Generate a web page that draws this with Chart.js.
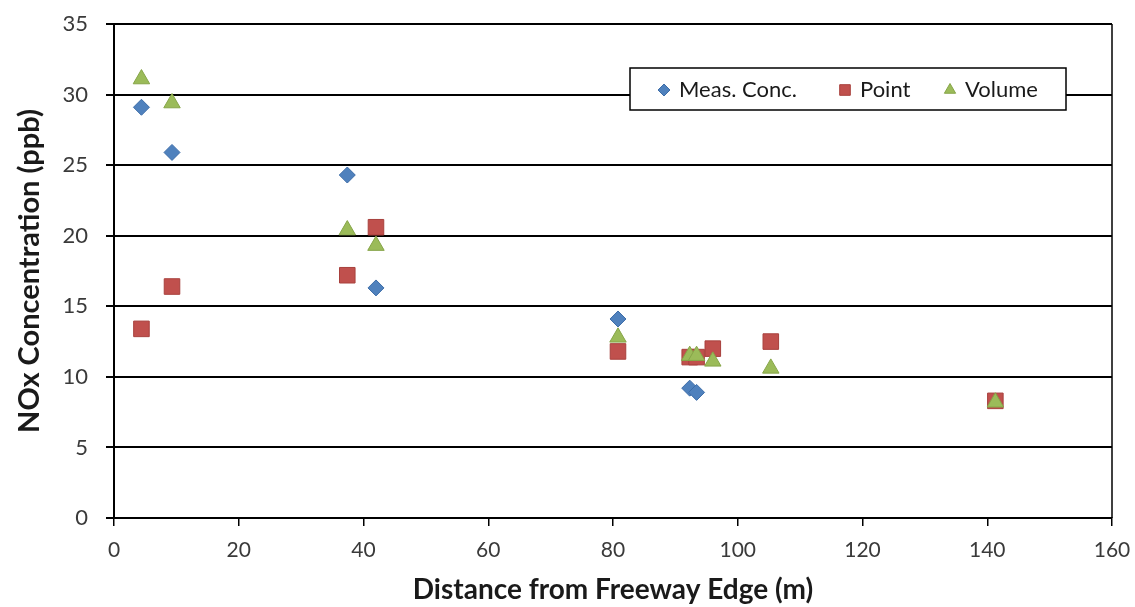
<!DOCTYPE html>
<html lang="en">
<head>
    <meta charset="UTF-8">
    <title>NOx vs Distance</title>
    <script src="https://cdn.jsdelivr.net/npm/chart.js"></script>
    <style>
        html, body { margin: 0; padding: 0; background: #fff; }
        #wrap { position: relative; width: 1135px; height: 607px; }
    </style>
</head>
<body>
<div id="wrap"><canvas id="noxChart" width="1135" height="607"></canvas></div>
<script>
// distances (m) and NOx (ppb) per series
const measX = [4.4, 9.3, 37.4, 42.0, 80.8, 92.3, 93.4];
const measY = [29.1, 25.9, 24.3, 16.3, 14.1, 9.2, 8.9];
const pointX = [4.4, 9.3, 37.4, 42.0, 80.8, 92.3, 93.4, 96.0, 105.3, 141.3];
const pointY = [13.4, 16.4, 17.2, 20.6, 11.8, 11.4, 11.4, 12.0, 12.5, 8.3];
const volX = [4.4, 9.3, 37.4, 42.0, 80.8, 92.3, 93.4, 96.0, 105.3, 141.3];
const volY = [31.1, 29.4, 20.4, 19.3, 12.8, 11.5, 11.5, 11.1, 10.6, 8.2];

const seriesNames = ['Meas. Conc.', 'Point', 'Volume'];
const xTicks = [0, 20, 40, 60, 80, 100, 120, 140, 160];
const yTicks = [0, 5, 10, 15, 20, 25, 30, 35];

const toXY = (xs, ys) => xs.map((x, i) => ({ x: x, y: ys[i] }));

const FONT = 'Lato, "Open Sans", sans-serif';

// legend box drawn inside the plot, top right
const boxLegend = {
    id: 'boxLegend',
    afterDraw(chart) {
        const ctx = chart.ctx;
        const bx = 630, by = 68, bw = 436, bh = 42;
        ctx.save();
        ctx.fillStyle = '#fff';
        ctx.fillRect(bx, by, bw, bh);
        ctx.strokeStyle = '#000';
        ctx.lineWidth = 1.5;
        ctx.strokeRect(bx, by, bw, bh);
        const items = [
            { mx: 664, tx: 679 },
            { mx: 845, tx: 860 },
            { mx: 950, tx: 965 }
        ];
        const sizes = [6, 7.5, 6.5];
        ctx.font = '22px ' + FONT;
        ctx.textBaseline = 'middle';
        items.forEach((it, i) => {
            const ds = chart.data.datasets[i];
            ctx.fillStyle = ds.backgroundColor;
            ctx.strokeStyle = ds.borderColor;
            ctx.lineWidth = 1;
            Chart.helpers.drawPoint(ctx, { pointStyle: ds.pointStyle, radius: sizes[i], borderWidth: 1 }, it.mx, by + bh / 2 + 1);
            ctx.fillStyle = '#1a1a1a';
            ctx.fillText(seriesNames[i], it.tx, by + bh / 2 + 1);
        });
        ctx.restore();
    }
};

// right-hand border of the plot area
const plotFrame = {
    id: 'plotFrame',
    afterDatasetsDraw(chart) {
        const a = chart.chartArea, ctx = chart.ctx;
        ctx.save();
        ctx.strokeStyle = '#000';
        ctx.lineWidth = 1.5;
        ctx.beginPath();
        ctx.moveTo(a.right, a.top);
        ctx.lineTo(a.right, a.bottom);
        ctx.stroke();
        ctx.restore();
    }
};

new Chart(document.getElementById('noxChart'), {
    type: 'scatter',
    data: {
        datasets: [
            {
                label: seriesNames[0],
                data: toXY(measX, measY),
                order: 2,
                pointStyle: 'rectRot',
                pointRadius: 8,
                backgroundColor: '#4F81BD',
                borderColor: '#3D6DA8',
                borderWidth: 1
            },
            {
                label: seriesNames[1],
                data: toXY(pointX, pointY),
                order: 1,
                pointStyle: 'rect',
                pointRadius: 11,
                backgroundColor: '#C0504D',
                borderColor: '#A8403D',
                borderWidth: 1
            },
            {
                label: seriesNames[2],
                data: toXY(volX, volY),
                order: 0,
                pointStyle: 'triangle',
                pointRadius: 9.5,
                backgroundColor: '#9BBB59',
                borderColor: '#86A548',
                borderWidth: 1
            }
        ]
    },
    options: {
        responsive: false,
        animation: false,
        layout: { padding: { top: 24, right: 23, left: 0, bottom: 0 } },
        plugins: {
            legend: { display: false },
            tooltip: { enabled: false }
        },
        scales: {
            x: {
                type: 'linear',
                min: 0,
                max: 160,
                afterBuildTicks: s => { s.ticks = xTicks.map(v => ({ value: v })); },
                afterFit: s => {
                    s.height = 89;
                    s.paddingLeft = 0;
                    s.paddingRight = 0;
                },
                border: { display: true, color: '#000', width: 2 },
                grid: { drawOnChartArea: false, drawTicks: true, tickLength: 8, color: '#000', lineWidth: 1.5 },
                ticks: { color: '#3a3a3a', padding: 12, font: { family: FONT, size: 21 }, maxRotation: 0 },
                title: {
                    display: true,
                    text: 'Distance from Freeway Edge (m)',
                    color: '#1a1a1a',
                    font: { family: FONT, size: 28, weight: 'bold' },
                    padding: { top: 0, bottom: 0 }
                }
            },
            y: {
                min: 0,
                max: 35,
                afterBuildTicks: s => { s.ticks = yTicks.map(v => ({ value: v })); },
                afterFit: s => {
                    s.width = 114;
                    s.paddingTop = 0;
                    s.paddingBottom = 0;
                },
                border: { display: true, color: '#000', width: 2 },
                grid: { color: '#000', lineWidth: 2, tickLength: 8 },
                ticks: { color: '#3a3a3a', padding: 18, font: { family: FONT, size: 22 } },
                title: {
                    display: true,
                    text: 'NOx Concentration (ppb)',
                    color: '#1a1a1a',
                    font: { family: FONT, size: 29, weight: 'bold' },
                    padding: { top: 12, bottom: 0 }
                }
            }
        }
    },
    plugins: [plotFrame, boxLegend]
});
</script>
</body>
</html>
